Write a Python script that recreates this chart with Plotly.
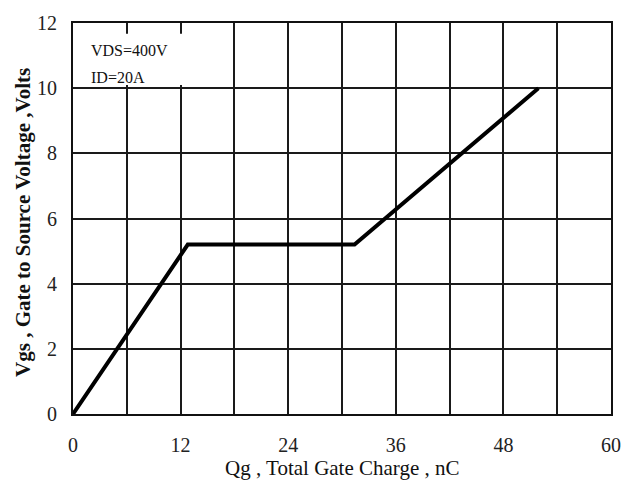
import plotly.graph_objects as go

# Data
qg_nc = [0, 12.8, 31.4, 51.9]
vgs_volts = [0, 5.2, 5.2, 10.0]

x_tickvals = [0, 6, 12, 18, 24, 30, 36, 42, 48, 54, 60]
x_ticktext = ["0", "", "12", "", "24", "", "36", "", "48", "", "60"]
y_tickvals = [0, 2, 4, 6, 8, 10, 12]
y_ticktext = ["0", "2", "4", "6", "8", "10", "12"]

conditions = ["VDS=400V", "ID=20A"]

FONT = "Liberation Serif, Times New Roman, serif"

fig = go.Figure()
fig.add_trace(go.Scatter(
    x=qg_nc, y=vgs_volts, mode="lines",
    line=dict(color="black", width=4),
    hoverinfo="skip", showlegend=False,
))

# white box behind condition text (blanks gridlines)
fig.add_shape(type="rect", xref="x", yref="y", x0=0.15, x1=14.2, y0=10.1, y1=11.67,
              fillcolor="white", line=dict(width=0), layer="between")

for txt, yy in zip(conditions, [11.15, 10.34]):
    fig.add_annotation(x=1.8, y=yy, xref="x", yref="y", text=txt, showarrow=False,
                       xanchor="left", yanchor="middle",
                       font=dict(family=FONT, size=16, color="#111"))

# axis titles
fig.add_annotation(x=0.5, y=-0.137, xref="paper", yref="paper",
                   text="Qg , Total Gate Charge , nC", showarrow=False,
                   xanchor="center", yanchor="middle",
                   font=dict(family=FONT, size=21, color="#111"))
fig.add_annotation(x=-0.092, y=0.49, xref="paper", yref="paper",
                   text="<b>Vgs , Gate to Source Voltage ,Volts</b>", showarrow=False,
                   textangle=-90, xanchor="center", yanchor="middle",
                   font=dict(family=FONT, size=21, color="#111"))

axis_common = dict(
    showgrid=True, gridcolor="#1a1a1a", gridwidth=1.6,
    showline=True, linecolor="#111", linewidth=2, mirror=True,
    zeroline=False, ticks="",
    tickfont=dict(family=FONT, size=20, color="#222"),
)
fig.update_xaxes(range=[0, 60], tickmode="array", tickvals=x_tickvals, ticktext=x_ticktext,
                 ticklabelstandoff=12, **axis_common)
fig.update_yaxes(range=[0, 12], tickmode="array", tickvals=y_tickvals, ticktext=y_ticktext,
                 ticklabelstandoff=10, **axis_common)

fig.update_layout(
    width=637, height=486,
    margin=dict(l=73, r=26, t=17, b=72),
    plot_bgcolor="white", paper_bgcolor="white",
    showlegend=False,
)

fig.write_html("out.html")
